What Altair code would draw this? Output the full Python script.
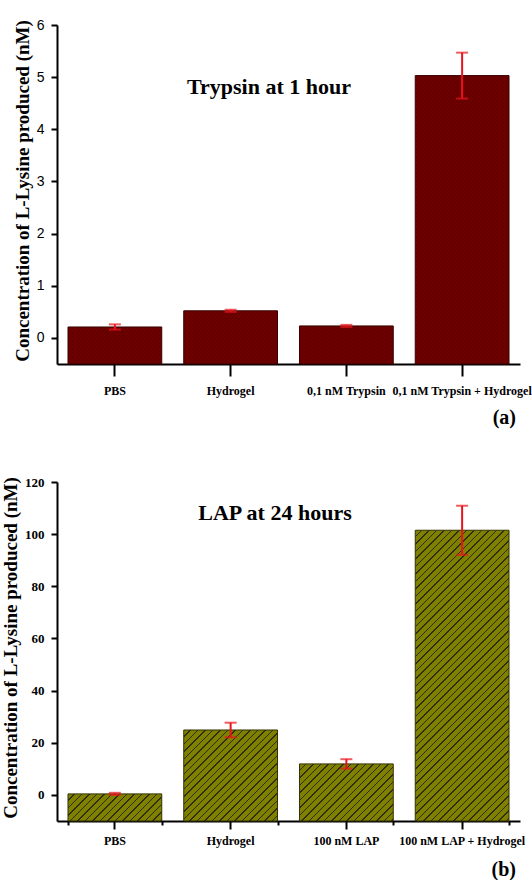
import altair as alt
import pandas as pd

# ---- data ----
cats_a = ["PBS", "Hydrogel", "0,1 nM Trypsin", "0,1 nM Trypsin + Hydrogel"]
vals_a = [0.21, 0.52, 0.23, 5.03]
errs_a = [0.05, 0.02, 0.02, 0.44]

cats_b = ["PBS", "Hydrogel", "100 nM LAP", "100 nM LAP + Hydrogel"]
vals_b = [0.4, 24.9, 11.9, 101.5]
errs_b = [0.4, 2.8, 1.8, 9.4]

W = 463
H = 339
P_IN = 0.19
P_OUT = 0.095
SERIF = "Liberation Serif"
SANS = "Liberation Sans"
RED = "#E8141B"


def hatch(w, h, base, line, period, frac):
    n_per = (w + h) / period
    s = (w + h) / (w * w + h * h)
    stops = []
    k = 0
    while k / n_per < 1:
        a = k / n_per
        b = min((k + 1 - frac) / n_per, 1.0)
        c = min((k + 1) / n_per, 1.0)
        stops += [
            alt.GradientStop(offset=a, color=base),
            alt.GradientStop(offset=b, color=base),
            alt.GradientStop(offset=b, color=line),
            alt.GradientStop(offset=c, color=line),
        ]
        k += 1
    return alt.LinearGradient(gradient="linear", x1=0, y1=0, x2=s * w, y2=s * h, stops=stops)


def panel(cats, vals, errs, ymin, ymax, major, minor, title, tag,
          base, line, stroke, period, frac, ylab_font, ylab_weight, ylab_size,
          xtick, xpad, title_x, band_ticks):
    df = pd.DataFrame({"cat": cats, "v": vals, "e": errs})
    df["lo"] = df["v"] - df["e"]
    df["hi"] = df["v"] + df["e"]
    df["base"] = ymin

    xscale = alt.Scale(domain=cats, paddingInner=P_IN, paddingOuter=P_OUT)
    yscale = alt.Scale(domain=[ymin, ymax], nice=False, zero=False)
    tick_vals = []
    t = 0.0
    while t <= ymax + 1e-9:
        tick_vals.append(round(t, 6))
        t += minor
    yaxis = alt.Axis(
        values=tick_vals,
        labelExpr=f"abs(datum.value % {major}) < 1e-6 ? datum.label : ''",
        title="Concentration of L-Lysine produced (nM)",
        titleFont=SERIF, titleFontWeight="bold", titleFontSize=19, titleColor="black",
        titleX=title_x, titleY=H / 2 - 4, titleBaseline="alphabetic", titleAngle=270,
        labelFont=ylab_font, labelFontWeight=ylab_weight, labelFontSize=ylab_size, labelColor="black",
        labelPadding=7,
        tickSize={"condition": {"test": f"abs(datum.value % {major}) < 1e-6", "value": 6}, "value": 4},
        tickWidth=2, tickColor="black", domainWidth=2, domainColor="black", grid=False,
    )
    y_enc = alt.Y("v:Q", scale=yscale, axis=yaxis)

    step = W / (len(cats) - P_IN + 2 * P_OUT)
    bw = step * (1 - P_IN)
    layers = []
    for c, v in zip(cats, vals):
        h = (v - ymin) / (ymax - ymin) * H
        layers.append(
            alt.Chart(df).transform_filter(alt.datum.cat == c)
            .mark_bar(fill=hatch(bw, h, base, line, period, frac), stroke=stroke, strokeWidth=1)
            .encode(x=alt.X("cat:N", scale=xscale, axis=None), y=y_enc, y2="base:Q")
        )

    xaxis = alt.Axis(
        title=None, labelAngle=0, labelFont=SERIF, labelFontWeight="bold", labelFontSize=12,
        labelColor="black", labelPadding=xpad, labelOverlap=False, tickSize=xtick, tickWidth=2,
        tickColor="black", domainWidth=2, domainColor="black", labelBaseline="top", orient="bottom",
    )
    rules = alt.Chart(df).mark_rule(color=RED, strokeWidth=2).encode(
        x=alt.X("cat:N", scale=xscale, axis=xaxis, sort=cats),
        y=alt.Y("lo:Q", scale=yscale), y2="hi:Q")
    if band_ticks:
        ax2 = alt.Axis(title=None, labels=False, domain=False, tickBand="extent", tickSize=4,
                       tickWidth=2, tickColor="black", orient="bottom")
    else:
        ax2 = None
    cap_lo = alt.Chart(df).mark_tick(color=RED, orient="horizontal", size=12, thickness=2).encode(
        x=alt.X("cat:N", scale=xscale, axis=ax2), y=alt.Y("lo:Q", scale=yscale))
    cap_hi = alt.Chart(df).mark_tick(color=RED, orient="horizontal", size=12, thickness=2).encode(
        x=alt.X("cat:N", scale=xscale, axis=None), y=alt.Y("hi:Q", scale=yscale))

    ttl = alt.Chart(pd.DataFrame({"t": [title[0]]})).mark_text(
        font=SERIF, fontWeight="bold", fontSize=22, color="black", align="center",
        baseline="alphabetic").encode(text="t:N", x=alt.value(title[1]), y=alt.value(title[2]))
    tg = alt.Chart(pd.DataFrame({"t": [tag[0]]})).mark_text(
        font=SERIF, fontWeight="bold", fontSize=20, color="black", align="right",
        baseline="alphabetic").encode(text="t:N", x=alt.value(tag[1]), y=alt.value(tag[2]))

    return alt.layer(*layers, rules, cap_lo, cap_hi, ttl, tg).resolve_axis(x="independent").properties(
        width=W, height=H)


top = panel(cats_a, vals_a, errs_a, -0.5, 6, 1, 0.5,
            ("Trypsin at 1 hour", 212, 69), ("(a)", 459, 399),
            "#6E0000", "#5A0000", "#3A0000", 4.0, 0.35, SANS, "normal", 14,
            12, 9, -29, False)
bot = panel(cats_b, vals_b, errs_b, -10, 120, 20, 10,
            ("LAP at 24 hours", 218, 38), ("(b)", 459, 394),
            "#808000", "#2E2E10", "#333300", 7.5, 0.22, SERIF, "bold", 13,
            8, 6, -41, True)

chart = alt.vconcat(top, bot, spacing=48).properties(
    padding={"left": 0, "top": 18, "right": 0, "bottom": 0}, background="white"
).configure_view(stroke=None)

chart.save("out.html", embed_options={"renderer": "svg", "actions": False})
